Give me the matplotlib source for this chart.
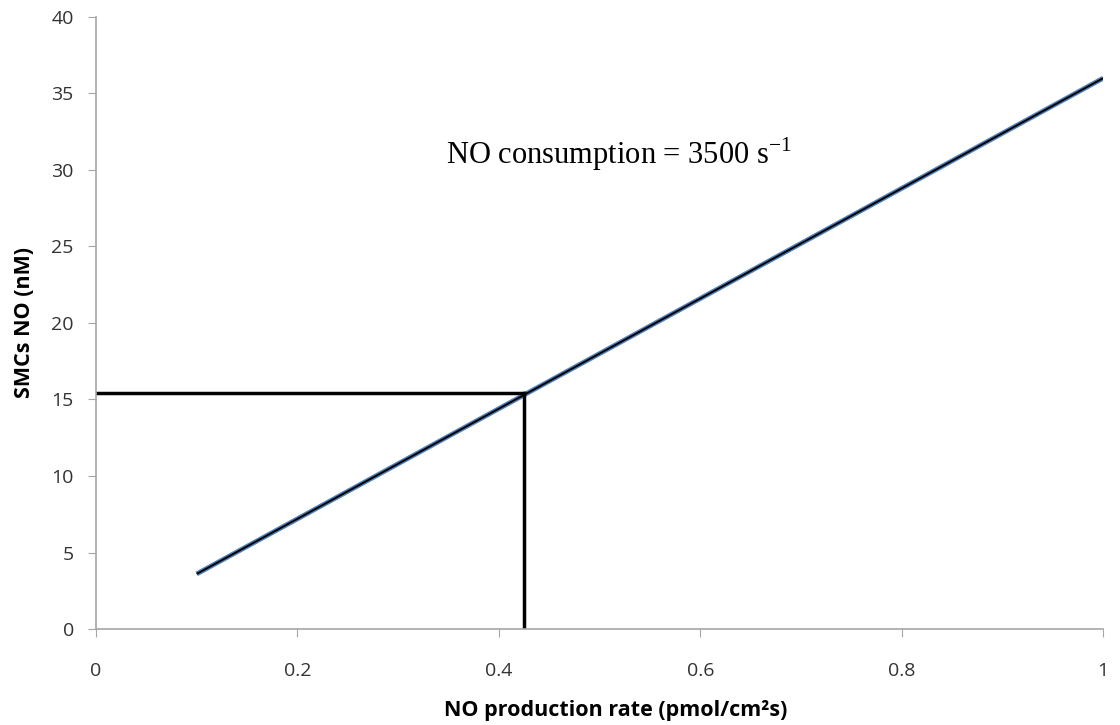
import matplotlib.pyplot as plt

# data
production_rate = [0.1, 0.2, 0.3, 0.4, 0.5, 0.6, 0.7, 0.8, 0.9, 1.0]
smc_no = [3.6, 7.2, 10.8, 14.4, 18.0, 21.6, 25.2, 28.8, 32.4, 36.0]
marker_x = 0.425
marker_y = 15.4

x_ticks = [0, 0.2, 0.4, 0.6, 0.8, 1]
x_tick_labels = ["0", "0.2", "0.4", "0.6", "0.8", "1"]
y_ticks = [0, 5, 10, 15, 20, 25, 30, 35, 40]

plt.rcParams['font.family'] = ['Open Sans', 'DejaVu Sans']

fig = plt.figure(figsize=(11.2, 7.25), dpi=100)
ax = fig.add_axes([0.0857, 0.1324, 0.8993, 0.8442])

# model line (blue with black overlay)
ax.plot(production_rate, smc_no, color="#4f81bd", linewidth=3.5, solid_capstyle="butt")
ax.plot(production_rate, smc_no, color="black", linewidth=1.4, solid_capstyle="butt")

# guide lines to the operating point
ax.plot([0, marker_x], [marker_y, marker_y], color="black", linewidth=2.5)
ax.plot([marker_x, marker_x], [0, marker_y], color="black", linewidth=2.5)

ax.text(0.348, 31.0, "NO consumption = 3500 s$^{\\mathregular{-1}}$", fontsize=22,
        family="Liberation Serif", va="center", ha="left")

ax.set_xlim(0, 1)
ax.set_ylim(0, 40)
ax.set_xticks(x_ticks)
ax.set_xticklabels(x_tick_labels)
ax.set_yticks(y_ticks)

ax.spines["top"].set_visible(False)
ax.spines["right"].set_visible(False)
for s in ["left", "bottom"]:
    ax.spines[s].set_color("#a6a6a6")
    ax.spines[s].set_linewidth(1.2)
ax.tick_params(axis="both", direction="out", length=6, color="#a6a6a6",
               labelsize=14, labelcolor="#333333")
ax.tick_params(axis="x", pad=18)
ax.tick_params(axis="y", pad=10)

ax.set_xlabel("NO production rate (pmol/cm²s)", fontsize=15.5, fontweight="bold", labelpad=14)
ax.xaxis.label.set_x(0.516)
ax.set_ylabel("SMCs NO (nM)", fontsize=15.5, fontweight="bold", labelpad=12)

fig.savefig("out.png", dpi=100)
